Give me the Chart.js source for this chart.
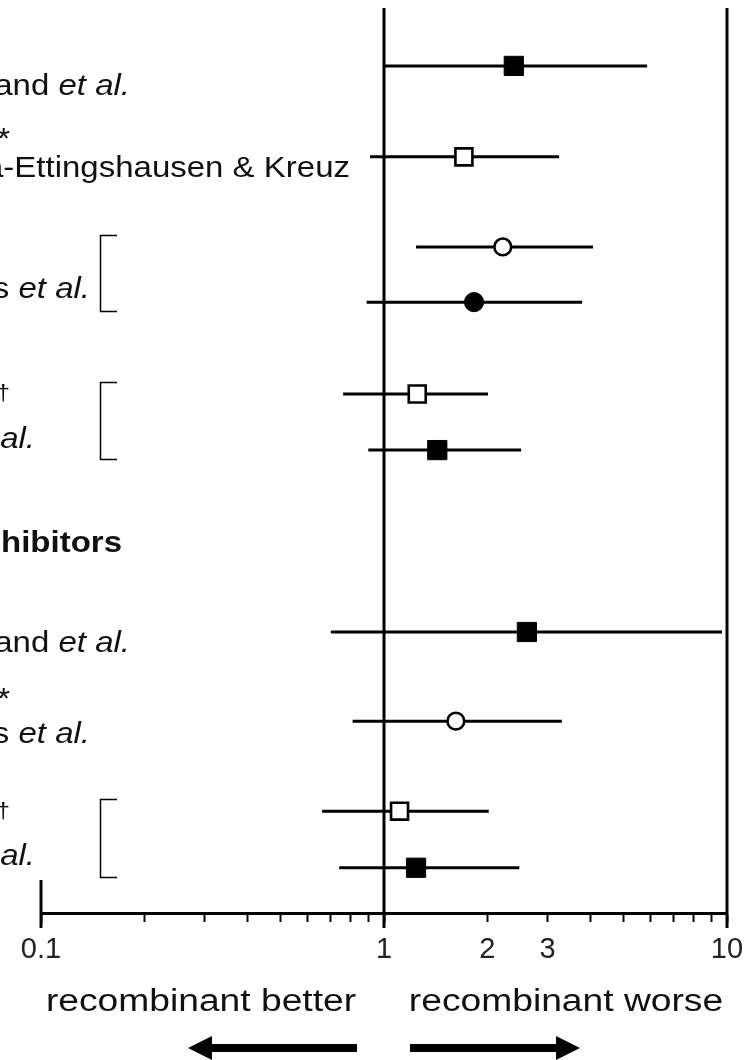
<!DOCTYPE html>
<html>
<head>
<meta charset="utf-8">
<script src="https://cdn.jsdelivr.net/npm/chart.js@4.4.0/dist/chart.umd.min.js"></script>
<style>
html,body{margin:0;padding:0;background:#fff;}
#wrap{width:749px;height:1060px;position:relative;}
canvas{display:block;}
</style>
</head>
<body>
<div id="wrap"><canvas id="c" width="749" height="1060"></canvas></div>
<script>
// ---- data ----
const rowPos      = [1.28, 3.29, 5.28, 6.50, 8.53, 9.77, 13.79, 15.76, 17.75, 19.00];
const estimates   = [2.39, 1.71, 2.22, 1.83, 1.25, 1.43, 2.61, 1.62, 1.11, 1.24];
const lowerCI     = [1.00, 0.91, 1.24, 0.89, 0.76, 0.90, 0.70, 0.81, 0.66, 0.74];
const upperCI     = [5.85, 3.24, 4.07, 3.78, 2.01, 2.51, 9.67, 3.30, 2.02, 2.48];
const markerShape = ['rect','rect','circle','circle','rect','rect','rect','circle','rect','rect'];
const markerFilled= [true, false, false, true, false, true, true, false, false, true];
const tickValues  = [0.1,0.2,0.3,0.4,0.5,0.6,0.7,0.8,0.9,1,2,3,4,5,6,7,8,9,10];
const labeledTicks= [0.1, 1, 2, 3, 10];
const tickLabels  = ['0.1','1','2','3','10'];
const refLines    = [1, 10];
const bracketRows = [[2,3],[4,5],[8,9]];
const leftText    = 'recombinant better';
const rightText   = 'recombinant worse';

// side labels (visible parts; the figure is cropped on the left)
const sideLabels = [
  {pos:1.92,  x:130, segs:[['and ','n'],['et al.','i']]},
  {pos:3.09,  x:10,  segs:[['*','n']], size:30},
  {pos:3.73,  x:350, segs:[['a-Ettingshausen & Kreuz','n']]},
  {pos:6.41,  x:90,  segs:[['s ','n'],['et al.','i']]},
  {pos:8.66,  x:10,  segs:[['\u2020','n']], size:22},
  {pos:9.72,  x:35,  segs:[['al.','i']]},
  {pos:12.02, x:122, segs:[['nhibitors','b']]},
  {pos:14.23, x:130, segs:[['and ','n'],['et al.','i']]},
  {pos:15.47, x:10,  segs:[['*','n']], size:30},
  {pos:16.24, x:90,  segs:[['s ','n'],['et al.','i']]},
  {pos:17.90, x:10,  segs:[['\u2020','n']], size:22},
  {pos:18.94, x:35,  segs:[['al.','i']]}
];

const FAM = "'Liberation Sans', Arial, Helvetica, sans-serif";
const STRETCH = 1.1;

function fontFor(style, size){
  if (style === 'i') return 'italic ' + size + 'px ' + FAM;
  if (style === 'b') return 'bold ' + size + 'px ' + FAM;
  return size + 'px ' + FAM;
}

const annot = {
  id: 'annot',
  beforeDatasetsDraw(chart){
    const {ctx, chartArea:a, scales:{x}} = chart;
    ctx.save();
    ctx.strokeStyle = '#000';
    ctx.lineWidth = 3;
    ctx.lineCap = 'butt';
    refLines.forEach(v => {
      const px = x.getPixelForValue(v);
      ctx.beginPath(); ctx.moveTo(px, a.top); ctx.lineTo(px, a.bottom + 15); ctx.stroke();
    });
    const p0 = x.getPixelForValue(0.1);
    ctx.beginPath(); ctx.moveTo(p0, a.bottom - 33); ctx.lineTo(p0, a.bottom + 15); ctx.stroke();
    ctx.restore();
  },
  afterDraw(chart){
    const {ctx, chartArea:a, scales:{x, y}} = chart;
    ctx.save();
    ctx.fillStyle = '#111';
    ctx.textBaseline = 'alphabetic';
    // side labels
    sideLabels.forEach(l => {
      const size = l.size || 30;
      let total = 0;
      const widths = l.segs.map(s => { ctx.font = fontFor(s[1], size); const w = ctx.measureText(s[0]).width * STRETCH; total += w; return w; });
      let cx = l.x - total;
      const py = y.getPixelForValue(l.pos);
      l.segs.forEach((s, i) => {
        ctx.font = fontFor(s[1], size);
        ctx.save();
        ctx.translate(cx, py);
        ctx.scale(STRETCH, 1);
        ctx.textAlign = 'left';
        ctx.fillText(s[0], 0, 0);
        ctx.restore();
        cx += widths[i];
      });
    });
    // brackets
    ctx.strokeStyle = '#000';
    ctx.lineWidth = 1.5;
    bracketRows.forEach(([r1, r2]) => {
      const t = Math.round(y.getPixelForValue(rowPos[r1]) - 12) + 0.5;
      const b = Math.round(y.getPixelForValue(rowPos[r2]) + 9) + 0.5;
      ctx.beginPath();
      ctx.moveTo(117, t); ctx.lineTo(100.5, t); ctx.lineTo(100.5, b); ctx.lineTo(117, b);
      ctx.stroke();
    });
    // bottom captions
    const x1 = x.getPixelForValue(1);
    ctx.font = fontFor('n', 31);
    [[leftText, x1 - 183], [rightText, x1 + 182]].forEach(([t, cx]) => {
      ctx.save();
      ctx.translate(cx, 1011);
      ctx.scale(1.2, 1);
      ctx.textAlign = 'center';
      ctx.fillText(t, 0, 0);
      ctx.restore();
    });
    // arrows
    ctx.fillStyle = '#000';
    const ay = 1048;
    function arrow(tail, tip){
      const dir = Math.sign(tip - tail);
      const base = tip - dir * 24;
      ctx.beginPath();
      ctx.moveTo(tail, ay - 4); ctx.lineTo(base, ay - 4); ctx.lineTo(base, ay - 12);
      ctx.lineTo(tip, ay); ctx.lineTo(base, ay + 12); ctx.lineTo(base, ay + 4);
      ctx.lineTo(tail, ay + 4); ctx.closePath(); ctx.fill();
    }
    arrow(x1 - 27, x1 - 196);
    arrow(x1 + 26, x1 + 196);
    ctx.restore();
  }
};

const markerData = rowPos.map((p, i) => ({x: estimates[i], y: p}));
const ciDatasets = rowPos.map((p, i) => ({
  type: 'scatter', showLine: true,
  data: [{x: lowerCI[i], y: p}, {x: upperCI[i], y: p}],
  borderColor: '#000', borderWidth: 3, pointRadius: 0, borderCapStyle: 'butt',
  order: 1
}));

new Chart(document.getElementById('c'), {
  type: 'scatter',
  data: {
    datasets: [
      {
        data: markerData,
        pointStyle: markerShape,
        pointRadius: markerShape.map((s, i) => s === 'rect' ? (markerFilled[i] ? 13.6 : 12) : (markerFilled[i] ? 9.6 : 8.4)),
        backgroundColor: markerFilled.map(f => f ? '#000' : '#fff'),
        borderColor: '#000',
        borderWidth: markerFilled.map(f => f ? 1 : 2.6),
        clip: false,
        order: 0
      },
      ...ciDatasets
    ]
  },
  options: {
    responsive: false,
    animation: false,
    devicePixelRatio: 1,
    layout: {autoPadding: false, padding: {left: 41, right: 22, top: 8, bottom: 0}},
    plugins: {legend: {display: false}, tooltip: {enabled: false}},
    scales: {
      x: {
        type: 'logarithmic', min: 0.1, max: 10, position: 'bottom',
        afterBuildTicks: s => { s.ticks = tickValues.map(v => ({value: v})); },
        afterFit: s => { s.height = 147; s.paddingLeft = 0; s.paddingRight = 0; },
        ticks: {
          autoSkip: false, maxRotation: 0, minRotation: 0, padding: 11,
          color: '#222', font: {family: FAM, size: 29},
          callback: v => { const i = labeledTicks.indexOf(v); return i >= 0 ? tickLabels[i] : ''; }
        },
        grid: {display: true, drawOnChartArea: false, drawTicks: true, tickLength: 9, tickWidth: 2, tickColor: '#000'},
        border: {display: true, color: '#000', width: 3}
      },
      y: {type: 'linear', min: 0, max: 20, reverse: true, display: false}
    }
  },
  plugins: [annot]
});
</script>
</body>
</html>
